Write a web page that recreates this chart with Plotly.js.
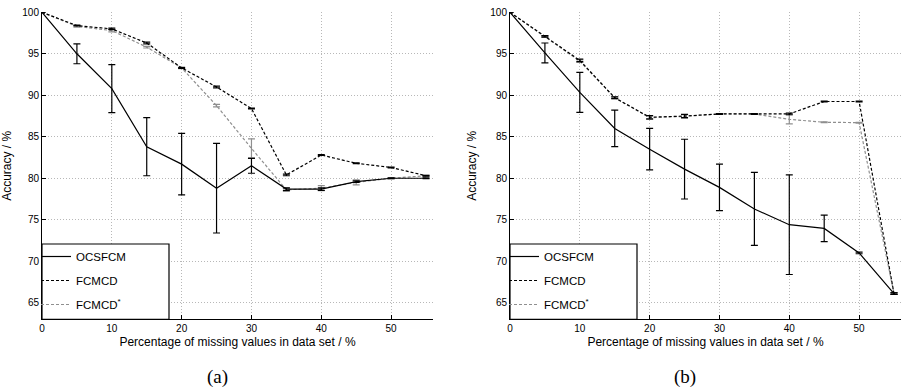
<!DOCTYPE html>
<html><head><meta charset="utf-8">
<script src="https://cdn.plot.ly/plotly-3.0.1.min.js"></script>
<style>html,body{margin:0;padding:0;background:#fff}#chart{width:904px;height:389px}</style>
</head><body><div id="chart"></div>
<script>
// Percentage of missing values
const missing = [0, 5, 10, 15, 20, 25, 30, 35, 40, 45, 50, 55];

// Panel (a)
const ocsA      = [100, 95.0, 90.8, 83.8, 81.7, 78.8, 81.5, 78.7, 78.7, 79.6, 80.0, 80.0];
const ocsAErr   = [0, 1.2, 2.9, 3.5, 3.7, 5.4, 0.9, 0.15, 0.15, 0.1, 0.05, 0.05];
const fcmA      = [100, 98.4, 98.0, 96.3, 93.3, 91.0, 88.4, 80.4, 82.8, 81.8, 81.3, 80.3];
const fcmAErr   = [0, 0.05, 0.1, 0.1, 0.05, 0.1, 0.05, 0.1, 0.05, 0.05, 0.05, 0.05];
const fcmSA     = [100, 98.3, 97.8, 95.8, 93.3, 88.75, 83.6, 78.6, 78.8, 79.5, 80.0, 80.3];
const fcmSAErr  = [0, 0.1, 0.15, 0.1, 0.1, 0.15, 1.15, 0.2, 0.3, 0.3, 0.05, 0.05];

// Panel (b)
const ocsB      = [100, 95.1, 90.35, 86.0, 83.5, 81.1, 78.9, 76.3, 74.4, 73.95, 71.0, 66.1];
const ocsBErr   = [0, 1.2, 2.4, 2.2, 2.5, 3.6, 2.8, 4.4, 6.0, 1.6, 0.1, 0.1];
const fcmB      = [100, 97.1, 94.2, 89.7, 87.35, 87.5, 87.75, 87.75, 87.75, 89.25, 89.25, 66.1];
const fcmBErr   = [0, 0.1, 0.15, 0.1, 0.2, 0.2, 0.05, 0.05, 0.1, 0.05, 0.05, 0.1];
const fcmSB     = [100, 97.1, 94.1, 89.7, 87.3, 87.45, 87.75, 87.75, 87.1, 86.75, 86.7, 66.1];
const fcmSBErr  = [0, 0.1, 0.15, 0.1, 0.2, 0.2, 0.05, 0.05, 0.55, 0.05, 0.05, 0.1];

const seriesNames = ['OCSFCM', 'FCMCD', 'FCMCD<sup>*</sup>'];
const xTicks = [0, 10, 20, 30, 40, 50];
const yTicks = [65, 70, 75, 80, 85, 90, 95, 100];

const GRAY = '#8f8f8f';
const FONT = 'Liberation Sans, Arial, sans-serif';

function tr(y, err, name, color, dash, xa, ya, leg, rank) {
  return {
    type: 'scatter', mode: 'lines', x: missing, y: y, name: name,
    xaxis: xa, yaxis: ya, legend: leg, legendrank: rank, legendgroup: leg + rank,
    cliponaxis: false,
    line: {color: color, width: 1.2, dash: dash},
    error_y: {type: 'data', array: err, visible: true, color: color, thickness: 1.2, width: 3.5}
  };
}

const data = [
  tr(fcmSA, fcmSAErr, seriesNames[2], GRAY, '3px,2px', 'x', 'y', 'legend', 3),
  tr(fcmA, fcmAErr, seriesNames[1], '#000', '3px,2px', 'x', 'y', 'legend', 2),
  tr(ocsA, ocsAErr, seriesNames[0], '#000', 'solid', 'x', 'y', 'legend', 1),
  tr(fcmSB, fcmSBErr, seriesNames[2], GRAY, '3px,2px', 'x2', 'y2', 'legend2', 3),
  tr(fcmB, fcmBErr, seriesNames[1], '#000', '3px,2px', 'x2', 'y2', 'legend2', 2),
  tr(ocsB, ocsBErr, seriesNames[0], '#000', 'solid', 'x2', 'y2', 'legend2', 1)
];

const H = 389, W = 904;
const yDom = [(H - 319.3) / H, (H - 12.3) / H];

function xax(dom, anchor) {
  return {
    domain: dom, anchor: anchor, range: [0, 56], tickvals: xTicks,
    showgrid: true, gridcolor: '#b8b8b8', griddash: '1px,2px', gridwidth: 1,
    zeroline: false, showline: true, linecolor: '#000', linewidth: 1,
    ticks: 'inside', ticklen: 4, tickcolor: '#000',
    tickfont: {family: FONT, size: 10, color: '#000'},
    title: {text: 'Percentage of missing values in data set / %', font: {family: FONT, size: 12, color: '#000'}, standoff: 4},
    automargin: false
  };
}
function yax(anchor) {
  return {
    domain: yDom, anchor: anchor, range: [63, 100], tickvals: yTicks,
    showgrid: true, gridcolor: '#b8b8b8', griddash: '1px,2px', gridwidth: 1,
    zeroline: false, showline: true, linecolor: '#000', linewidth: 1,
    ticks: 'inside', ticklen: 4, tickcolor: '#000',
    tickfont: {family: FONT, size: 10, color: '#000'},
    title: {text: 'Accuracy / %', font: {family: FONT, size: 12, color: '#000'}},
    automargin: false
  };
}

function legendBox(xr, yr) {
  return {type: 'rect', xref: xr + ' domain', yref: yr + ' domain',
    x0: 0, x1: 127 / 391, y0: 0, y1: (319.3 - 244) / 307,
    fillcolor: '#fff', line: {color: '#000', width: 1.2}, layer: 'above'};
}
function legendCfg(x) {
  return {x: x / W, xanchor: 'left', y: (H - 242) / H, yanchor: 'top',
    bgcolor: 'rgba(0,0,0,0)', borderwidth: 0, itemwidth: 30,
    traceorder: 'grouped', tracegroupgap: 5,
    font: {family: FONT, size: 11.5, color: '#000'}};
}

const layout = {
  width: W, height: H, margin: {l: 0, r: 0, t: 0, b: 0},
  paper_bgcolor: '#fff', plot_bgcolor: '#fff', showlegend: true,
  xaxis: xax([42 / W, 433 / W], 'y'),
  yaxis: yax('x'),
  xaxis2: xax([510 / W, 901 / W], 'y2'),
  yaxis2: yax('x2'),
  legend: legendCfg(36),
  legend2: legendCfg(504),
  shapes: [legendBox('x', 'y'), legendBox('x2', 'y2')],
  annotations: [
    {text: '(a)', xref: 'paper', yref: 'paper', x: 217 / W, y: (H - 377) / H, xanchor: 'center', yanchor: 'middle', showarrow: false, font: {family: 'Liberation Serif, Times New Roman, serif', size: 19, color: '#000'}},
    {text: '(b)', xref: 'paper', yref: 'paper', x: 685 / W, y: (H - 377) / H, xanchor: 'center', yanchor: 'middle', showarrow: false, font: {family: 'Liberation Serif, Times New Roman, serif', size: 19, color: '#000'}}
  ]
};

Plotly.newPlot('chart', data, layout, {staticPlot: true, displayModeBar: false});
</script>
</body></html>
